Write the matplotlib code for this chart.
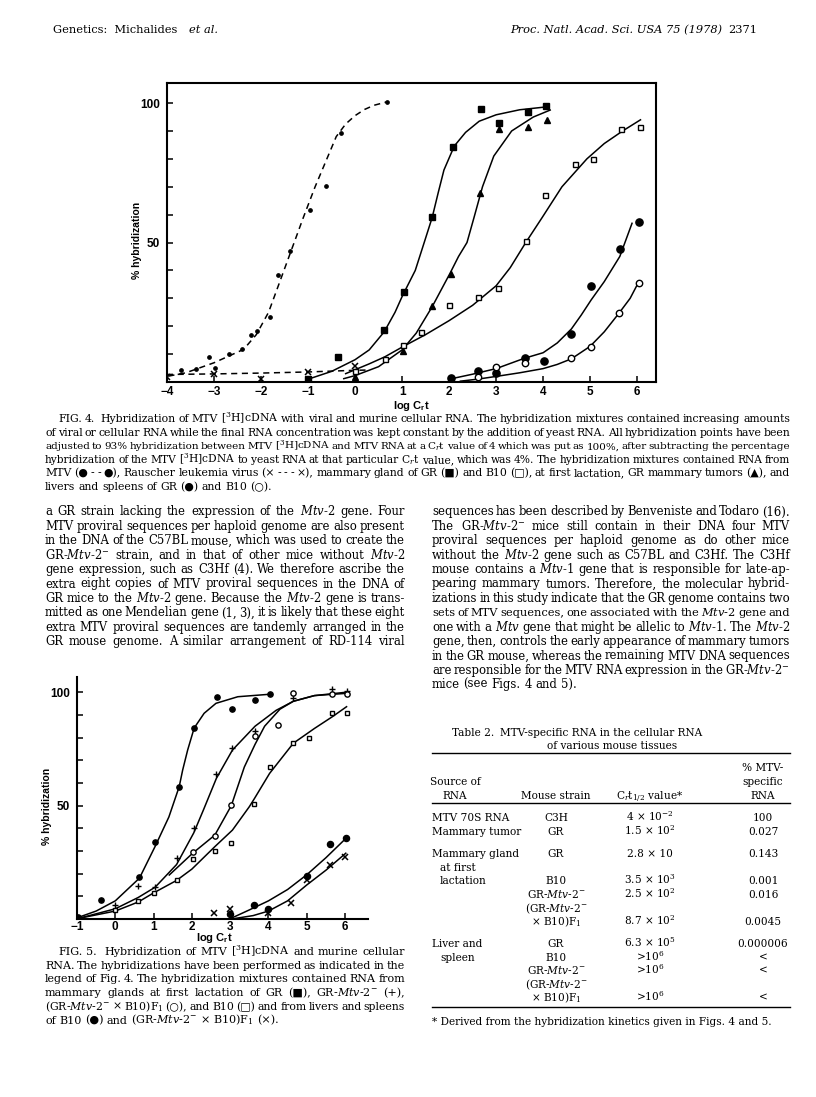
import matplotlib
matplotlib.use("Agg")
import matplotlib.pyplot as plt
from matplotlib.ticker import FixedLocator

W, H = 816, 1097
plt.rcParams['font.family'] = ['DejaVu Serif', 'DejaVu Sans']
plt.rcParams['mathtext.fontset'] = 'custom'
plt.rcParams['mathtext.rm'] = 'DejaVu Serif'
plt.rcParams['mathtext.it'] = 'DejaVu Serif:italic'
plt.rcParams['mathtext.bf'] = 'DejaVu Serif:bold'
plt.rcParams['mathtext.sf'] = 'Liberation Sans:bold'
SANS = ['Liberation Sans', 'DejaVu Sans']

# ---------------- Fig. 4 data (log Crt, % hybridization) ----------------
f4_mtv_x = [-3.70, -3.39, -3.10, -2.98, -2.69, -2.40, -2.22, -2.09, -1.81, -1.63, -1.38, -0.96, -0.61, -0.30, 0.67]
f4_mtv_y = [4.3, 4.5, 8.9, 5.1, 10.2, 12.0, 16.8, 18.2, 23.2, 38.2, 47.0, 61.5, 70.3, 89.2, 100.4]
f4_mtv_cx = [-3.97, -3.6, -3.0, -2.37, -2.1, -1.84, -1.6, -1.35, -1.1, -0.85, -0.6, -0.4, -0.2, 0.0, 0.2, 0.4, 0.67]
f4_mtv_cy = [2.1, 3.3, 6.9, 11.7, 17.0, 25.0, 36.0, 47.5, 59.0, 70.0, 80.0, 88.0, 92.5, 95.5, 97.7, 99.2, 100.4]

f4_rlv_x = [-4.0, -3.0, -2.0, -1.0, 0.0]
f4_rlv_y = [1.9, 2.8, 1.1, 3.5, 5.7]
f4_rlv_cx = [-4.0, -3.0, -2.0, -1.0, 0.0, 0.3]
f4_rlv_cy = [2.7, 2.9, 3.2, 3.6, 4.2, 4.3]

f4_grmg_x = [-1.0, -0.37, 0.62, 1.03, 1.64, 2.08, 2.68, 3.06, 3.67, 4.05]
f4_grmg_y = [1.2, 8.8, 18.5, 32.1, 59.0, 84.2, 97.8, 92.7, 96.7, 98.8]
f4_grmg_cx = [-1.0, -0.5, 0.0, 0.3, 0.62, 0.85, 1.01, 1.28, 1.47, 1.64, 1.77, 1.89, 2.11, 2.35, 2.64, 3.0, 3.5, 4.05]
f4_grmg_cy = [1.0, 3.8, 8.0, 11.5, 18.0, 25.0, 31.0, 40.0, 50.0, 59.0, 68.0, 76.0, 84.6, 89.5, 93.5, 95.8, 97.6, 98.6]

f4_tum_x = [0.0, 1.01, 1.64, 2.03, 2.66, 3.07, 3.68, 4.09]
f4_tum_y = [1.8, 11.1, 27.4, 38.9, 67.7, 90.7, 91.6, 93.9]
f4_tum_cx = [-0.24, 0.0, 0.5, 1.0, 1.3, 1.64, 2.02, 2.2, 2.38, 2.53, 2.71, 2.95, 3.33, 3.79, 4.15]
f4_tum_cy = [1.2, 2.3, 5.5, 11.5, 17.5, 27.0, 39.0, 45.0, 50.0, 59.0, 70.0, 81.0, 90.0, 95.0, 97.5]

f4_b10mg_x = [0.0, 0.63, 1.01, 1.41, 1.99, 2.62, 3.03, 3.63, 4.04, 4.67, 5.05, 5.65, 6.07]
f4_b10mg_y = [4.0, 8.1, 13.1, 17.9, 27.6, 30.4, 33.6, 50.6, 66.9, 78.1, 79.9, 90.8, 91.5]
f4_b10mg_cx = [-0.2, 0.3, 0.63, 1.0, 1.5, 2.0, 2.5, 3.0, 3.3, 3.63, 3.98, 4.4, 4.93, 5.3, 5.69, 6.07]
f4_b10mg_cy = [3.0, 6.5, 9.0, 12.5, 17.0, 22.0, 27.5, 34.5, 41.0, 50.0, 59.0, 70.0, 80.0, 85.5, 90.0, 94.0]

f4_grlv_x = [2.03, 2.62, 3.0, 3.62, 4.01, 4.6, 5.02, 5.63, 6.03]
f4_grlv_y = [1.3, 4.1, 3.1, 8.7, 7.5, 17.1, 34.5, 47.6, 57.2]
f4_grlv_cx = [2.0, 2.5, 3.0, 3.6, 4.0, 4.3, 4.6, 4.81, 5.02, 5.3, 5.63, 5.89]
f4_grlv_cy = [1.0, 2.8, 4.8, 8.5, 10.5, 14.0, 19.0, 24.0, 29.4, 36.0, 45.0, 56.9]

f4_b10lv_x = [2.62, 3.0, 3.62, 4.6, 5.01, 5.61, 6.03]
f4_b10lv_y = [1.9, 5.5, 6.9, 8.5, 12.7, 24.6, 35.6]
f4_b10lv_cx = [2.24, 2.6, 3.0, 3.5, 4.0, 4.3, 4.6, 5.0, 5.3, 5.61, 5.85, 6.03]
f4_b10lv_cy = [0.3, 1.0, 2.0, 3.3, 4.8, 6.3, 8.3, 12.8, 18.0, 24.6, 30.0, 35.8]

# ---------------- Fig. 5 data ----------------
f5_gr_x = [-0.98, -0.37, 0.63, 1.04, 1.67, 2.06, 2.65, 3.06, 3.65, 4.04]
f5_gr_y = [1.0, 8.4, 18.4, 34.0, 58.4, 84.2, 97.7, 92.6, 96.6, 99.1]
f5_gr_cx = [-1.0, -0.5, 0.0, 0.63, 1.04, 1.4, 1.67, 1.76, 1.89, 2.06, 2.32, 2.63, 3.2, 4.04]
f5_gr_cy = [0.5, 3.5, 8.0, 18.0, 32.0, 45.0, 58.4, 65.7, 74.5, 84.2, 90.7, 95.1, 98.0, 99.1]

f5_mtv2_x = [0.0, 0.6, 1.04, 1.61, 2.05, 2.64, 3.06, 3.65, 4.65, 5.67, 6.04]
f5_mtv2_y = [6.0, 14.6, 13.9, 27.0, 40.3, 63.8, 75.3, 82.9, 97.6, 101.3, 100.7]
f5_mtv2_cx = [-0.95, 0.0, 0.6, 1.04, 1.6, 2.05, 2.3, 2.64, 3.06, 3.65, 4.2, 4.65, 5.2, 6.04]
f5_mtv2_cy = [0.3, 4.5, 9.5, 14.0, 24.0, 38.0, 48.0, 62.0, 74.5, 85.0, 92.0, 96.0, 98.5, 100.0]

f5_f1_x = [2.02, 2.6, 3.03, 3.65, 4.24, 4.65, 5.67, 6.04]
f5_f1_y = [29.6, 36.8, 50.4, 80.7, 85.5, 99.5, 99.1, 99.1]
f5_f1_cx = [1.41, 2.02, 2.6, 3.03, 3.37, 3.65, 3.9, 4.3, 4.65, 5.2, 6.04]
f5_f1_cy = [19.4, 29.0, 37.0, 50.0, 67.0, 77.0, 85.0, 92.5, 96.0, 98.5, 99.5]

f5_b10_x = [0.0, 0.6, 1.02, 1.6, 2.02, 2.6, 3.02, 3.63, 4.03, 4.65, 5.05, 5.67, 6.04]
f5_b10_y = [4.0, 8.1, 11.3, 17.2, 26.5, 30.1, 33.4, 50.7, 66.9, 77.8, 80.0, 90.7, 91.0]
f5_b10_cx = [-0.95, 0.0, 0.6, 1.0, 1.6, 2.0, 2.6, 3.06, 3.5, 3.63, 4.03, 4.65, 5.2, 5.67, 6.04]
f5_b10_cy = [0.3, 3.5, 7.5, 11.5, 17.0, 22.0, 31.9, 39.2, 49.5, 53.0, 64.2, 77.5, 84.0, 89.2, 93.6]

f5_b10lv_x = [3.0, 3.61, 3.99, 5.0, 5.61, 6.02]
f5_b10lv_y = [2.1, 6.0, 4.3, 19.0, 33.1, 35.9]
f5_b10lv_cx = [3.05, 3.5, 4.0, 4.5, 5.0, 5.5, 6.02]
f5_b10lv_cy = [0.5, 4.0, 8.0, 13.0, 19.5, 27.0, 35.5]

f5_f1lv_x = [2.59, 3.0, 3.99, 4.58, 5.0, 5.61, 6.01]
f5_f1lv_y = [2.5, 4.3, 2.5, 7.0, 17.2, 23.8, 27.2]
f5_f1lv_cx = [3.15, 3.6, 4.0, 4.5, 5.0, 5.5, 6.02]
f5_f1lv_cy = [0.3, 1.5, 3.5, 8.0, 15.0, 21.5, 29.0]

x4_ticks = [-4, -3, -2, -1, 0, 1, 2, 3, 4, 5, 6]
x5_ticks = [-1, 0, 1, 2, 3, 4, 5, 6]

# ---------------- text ----------------
IT = r'$\mathit{Mtv}$'
cap4 = [
    "FIG. 4.  Hybridization of MTV [$^{3}$H]cDNA with viral and murine cellular RNA. The hybridization mixtures contained increasing amounts",
    "of viral or cellular RNA while the final RNA concentration was kept constant by the addition of yeast RNA. All hybridization points have been",
    "adjusted to 93% hybridization between MTV [$^{3}$H]cDNA and MTV RNA at a C$_{r}$t value of 4 which was put as 100%, after subtracting the percentage",
    "hybridization of the MTV [$^{3}$H]cDNA to yeast RNA at that particular C$_{r}$t value, which was 4%. The hybridization mixtures contained RNA from",
    "MTV (● - - ●), Rauscher leukemia virus (× - - - ×), mammary gland of GR (■) and B10 (□), at first lactation, GR mammary tumors (▲), and",
    "livers and spleens of GR (●) and B10 (○).",
]
cap5 = [
    "FIG. 5.  Hybridization of MTV [$^{3}$H]cDNA and murine cellular",
    "RNA. The hybridizations have been performed as indicated in the",
    "legend of Fig. 4. The hybridization mixtures contained RNA from",
    "mammary glands at first lactation of GR (■), GR-" + IT + "-2$^{-}$ (+),",
    "(GR-" + IT + "-2$^{-}$ × B10)F$_{1}$ (○), and B10 (□) and from livers and spleens",
    "of B10 (●) and (GR-" + IT + "-2$^{-}$ × B10)F$_{1}$ (×).",
]
body_left = [
    "a GR strain lacking the expression of the " + IT + "-2 gene. Four",
    "MTV proviral sequences per haploid genome are also present",
    "in the DNA of the C57BL mouse, which was used to create the",
    "GR-" + IT + "-2$^{-}$ strain, and in that of other mice without " + IT + "-2",
    "gene expression, such as C3Hf (4). We therefore ascribe the",
    "extra eight copies of MTV proviral sequences in the DNA of",
    "GR mice to the " + IT + "-2 gene. Because the " + IT + "-2 gene is trans-",
    "mitted as one Mendelian gene (1, 3), it is likely that these eight",
    "extra MTV proviral sequences are tandemly arranged in the",
    "GR mouse genome. A similar arrangement of RD-114 viral",
]
body_right = [
    "sequences has been described by Benveniste and Todaro (16).",
    "The GR-" + IT + "-2$^{-}$ mice still contain in their DNA four MTV",
    "proviral sequences per haploid genome as do other mice",
    "without the " + IT + "-2 gene such as C57BL and C3Hf. The C3Hf",
    "mouse contains a " + IT + "-1 gene that is responsible for late-ap-",
    "pearing mammary tumors. Therefore, the molecular hybrid-",
    "izations in this study indicate that the GR genome contains two",
    "sets of MTV sequences, one associated with the " + IT + "-2 gene and",
    "one with a " + IT + " gene that might be allelic to " + IT + "-1. The " + IT + "-2",
    "gene, then, controls the early appearance of mammary tumors",
    "in the GR mouse, whereas the remaining MTV DNA sequences",
    "are responsible for the MTV RNA expression in the GR-" + IT + "-2$^{-}$",
    "mice (see Figs. 4 and 5).",
]
mtv2 = "GR-" + IT + "-2$^{-}$"
tab_source = ["MTV 70S RNA", "Mammary tumor", "Mammary gland", "at first", "lactation", "", "", "",
              "Liver and", "spleen", "", "", ""]
tab_strain = ["C3H", "GR", "GR", "", "B10", mtv2, "(" + mtv2, "× B10)F$_{1}$",
              "GR", "B10", mtv2, "(" + mtv2, "× B10)F$_{1}$"]
tab_crt = ["4 × 10$^{-2}$", "1.5 × 10$^{2}$", "2.8 × 10", "", "3.5 × 10$^{3}$", "2.5 × 10$^{2}$", "",
           "8.7 × 10$^{2}$", "6.3 × 10$^{5}$", ">10$^{6}$", ">10$^{6}$", "", ">10$^{6}$"]
tab_pct = ["100", "0.027", "0.143", "", "0.001", "0.016", "", "0.0045", "0.000006", "<", "<", "", "<"]
tab_rows_y = [818, 832, 854, 868, 881, 895, 909, 922, 944, 958, 971, 985, 998]

fig = plt.figure(figsize=(W / 100, H / 100), dpi=100)
fig.patch.set_facecolor('white')
rend = fig.canvas.get_renderer()


def fx(x):
    return x / W


def fy(y):
    return 1 - y / H


def put_line(x0, x1, y, s, size, justify=True):
    words = s.split(' ')
    objs = [fig.text(fx(x0), fy(y), w, fontsize=size, va='baseline', ha='left') for w in words]
    space = 0.3 * size * 100 / 72
    while True:
        widths = [o.get_window_extent(rend).width if w else 0.0 for o, w in zip(objs, words)]
        gap = (x1 - x0 - sum(widths)) / max(len(words) - 1, 1) if justify else space
        if gap > 0.55 * space or size < 4:
            break
        size *= 0.98
        for o in objs:
            o.set_fontsize(size)
    x = x0
    for o, wd in zip(objs, widths):
        o.set_x(fx(x))
        x += wd + gap


def setup_axes(ax, box, xt, xlim, ylim, xpad):
    ax.set_xlim(*xlim)
    ax.set_ylim(*ylim)
    for s in ['left', 'bottom', 'top', 'right']:
        ax.spines[s].set_linewidth(1.5)
        ax.spines[s].set_visible(box or s in ('left', 'bottom'))
    ax.xaxis.set_major_locator(FixedLocator(xt))
    ax.set_xticklabels([str(t).replace('-', '\u2212') for t in xt])
    ax.yaxis.set_major_locator(FixedLocator([50, 100]))
    ax.yaxis.set_minor_locator(FixedLocator(range(10, 101, 10)))
    ax.tick_params(which='both', direction='in', length=4, width=1.1, top=False, right=False)
    ax.tick_params(axis='x', labelsize=8.5, pad=xpad)
    ax.tick_params(axis='y', labelsize=8.5, pad=5)
    for lab in ax.get_xticklabels() + ax.get_yticklabels():
        lab.set_fontfamily(SANS)
        lab.set_fontweight('bold')


K = 'black'
# ---------------- Fig. 4 ----------------
ax4 = fig.add_axes([fx(167), fy(382), (656 - 167) / W, (382 - 83) / H])
setup_axes(ax4, True, x4_ticks, (-4.0, 6.4), (0, 107.2), 3.0)
ax4.plot(f4_mtv_cx, f4_mtv_cy, color=K, lw=1.1, ls=(0, (4, 3)))
ax4.plot(f4_rlv_cx, f4_rlv_cy, color=K, lw=1.1, ls=(0, (4, 3)))
for cx, cy in [(f4_grmg_cx, f4_grmg_cy), (f4_tum_cx, f4_tum_cy), (f4_b10mg_cx, f4_b10mg_cy),
               (f4_grlv_cx, f4_grlv_cy), (f4_b10lv_cx, f4_b10lv_cy)]:
    ax4.plot(cx, cy, color=K, lw=1.1)
ax4.plot(f4_mtv_x, f4_mtv_y, 'o', color=K, ms=2.4)
ax4.plot(f4_rlv_x, f4_rlv_y, 'x', color=K, ms=4, mew=1.1)
ax4.plot(f4_grmg_x, f4_grmg_y, 's', color=K, ms=4.2)
ax4.plot(f4_tum_x, f4_tum_y, '^', color=K, ms=4.8)
ax4.plot(f4_b10mg_x, f4_b10mg_y, 's', mfc='white', mec=K, ms=3.6, mew=1.0)
ax4.plot(f4_grlv_x, f4_grlv_y, 'o', color=K, ms=5.2)
ax4.plot(f4_b10lv_x, f4_b10lv_y, 'o', mfc='white', mec=K, ms=4.6, mew=1.0)
fig.text(fx(137), fy(240), '% hybridization', rotation=90, ha='center', va='center',
         fontsize=7.5, fontweight='bold', family=SANS)
fig.text(fx(411), fy(406), r'log C$_{\mathsf{r}}$t', ha='center', va='center',
         fontsize=8, fontweight='bold', family=SANS)

# ---------------- Fig. 5 ----------------
ax5 = fig.add_axes([fx(77), fy(919), (368 - 77) / W, (919 - 677) / H])
setup_axes(ax5, False, x5_ticks, (-1.0, 6.6), (0, 106.7), 1.5)
for cx, cy in [(f5_gr_cx, f5_gr_cy), (f5_mtv2_cx, f5_mtv2_cy), (f5_f1_cx, f5_f1_cy),
               (f5_b10_cx, f5_b10_cy), (f5_b10lv_cx, f5_b10lv_cy), (f5_f1lv_cx, f5_f1lv_cy)]:
    ax5.plot(cx, cy, color=K, lw=1.1)
ax5.plot(f5_gr_x, f5_gr_y, 'o', color=K, ms=3.8)
ax5.plot(f5_mtv2_x, f5_mtv2_y, '+', color=K, ms=5, mew=1.0)
ax5.plot(f5_f1_x, f5_f1_y, 'o', mfc='white', mec=K, ms=3.8, mew=1.0)
ax5.plot(f5_b10_x, f5_b10_y, 's', mfc='white', mec=K, ms=3.3, mew=1.0)
ax5.plot(f5_b10lv_x, f5_b10lv_y, 'o', color=K, ms=4.4)
ax5.plot(f5_f1lv_x, f5_f1lv_y, 'x', color=K, ms=4, mew=1.1)
fig.text(fx(47), fy(806), '% hybridization', rotation=90, ha='center', va='center',
         fontsize=7.5, fontweight='bold', family=SANS)
fig.text(fx(214), fy(938), r'log C$_{\mathsf{r}}$t', ha='center', va='center',
         fontsize=8, fontweight='bold', family=SANS)

# ---------------- page text ----------------
fig.text(fx(53), fy(33), 'Genetics:  Michalides', fontsize=8.2, va='baseline')
fig.text(fx(189), fy(33), 'et al.', fontsize=8.2, style='italic', va='baseline')
fig.text(fx(722), fy(33), 'Proc. Natl. Acad. Sci. USA 75 (1978)', fontsize=8.2,
         style='italic', ha='right', va='baseline')
fig.text(fx(757), fy(33), '2371', fontsize=8.2, ha='right', va='baseline')

for i, s in enumerate(cap4):
    put_line(58 if i == 0 else 45, 790, 422 + 13.6 * i, s, 7.8, justify=i < len(cap4) - 1)
for i, s in enumerate(body_left):
    put_line(45, 405, 515.5 + 14.4 * i, s, 8.4)
for i, s in enumerate(body_right):
    put_line(432, 790, 515.5 + 14.4 * i, s, 8.4, justify=i < len(body_right) - 1)
for i, s in enumerate(cap5):
    put_line(58 if i == 0 else 45, 405, 955 + 13.7 * i, s, 8.0, justify=i < len(cap5) - 1)

# ---------------- Table 2 ----------------
TS = 7.6
c_src, c_str, c_crt, c_pct = 455, 556, 650, 763
fig.text(fx(452), fy(736), 'Table 2.', fontsize=TS, va='baseline')
fig.text(fx(500), fy(736), 'MTV-specific RNA in the cellular RNA', fontsize=TS, va='baseline')
fig.text(fx(612), fy(749), 'of various mouse tissues', fontsize=TS, va='baseline', ha='center')
for yy in (753, 803, 1007):
    fig.add_artist(plt.Line2D([fx(432), fx(790)], [fy(yy), fy(yy)], color=K, lw=1.0))
fig.text(fx(c_src), fy(785), 'Source of', fontsize=TS, va='baseline', ha='center')
fig.text(fx(c_src), fy(799), 'RNA', fontsize=TS, va='baseline', ha='center')
fig.text(fx(c_str), fy(799), 'Mouse strain', fontsize=TS, va='baseline', ha='center')
fig.text(fx(c_crt), fy(799), r'C$_{r}$t$_{1/2}$ value*', fontsize=TS, va='baseline', ha='center')
fig.text(fx(c_pct), fy(771), '% MTV-', fontsize=TS, va='baseline', ha='center')
fig.text(fx(c_pct), fy(785), 'specific', fontsize=TS, va='baseline', ha='center')
fig.text(fx(c_pct), fy(799), 'RNA', fontsize=TS, va='baseline', ha='center')
for src, st, crt, pct, yy in zip(tab_source, tab_strain, tab_crt, tab_pct, tab_rows_y):
    yb = fy(yy + 3)
    if src:
        indent = 440 if src in ('at first', 'lactation', 'spleen') else 432
        fig.text(fx(indent), yb, src, fontsize=TS, va='baseline')
    if st:
        fig.text(fx(c_str), yb, st, fontsize=TS, va='baseline', ha='center')
    if crt:
        fig.text(fx(c_crt), yb, crt, fontsize=TS, va='baseline', ha='center')
    if pct:
        fig.text(fx(c_pct), yb, pct, fontsize=TS, va='baseline', ha='center')
fig.text(fx(432), fy(1025), '* Derived from the hybridization kinetics given in Figs. 4 and 5.',
         fontsize=TS, va='baseline')

fig.savefig('out.png', dpi=100)
